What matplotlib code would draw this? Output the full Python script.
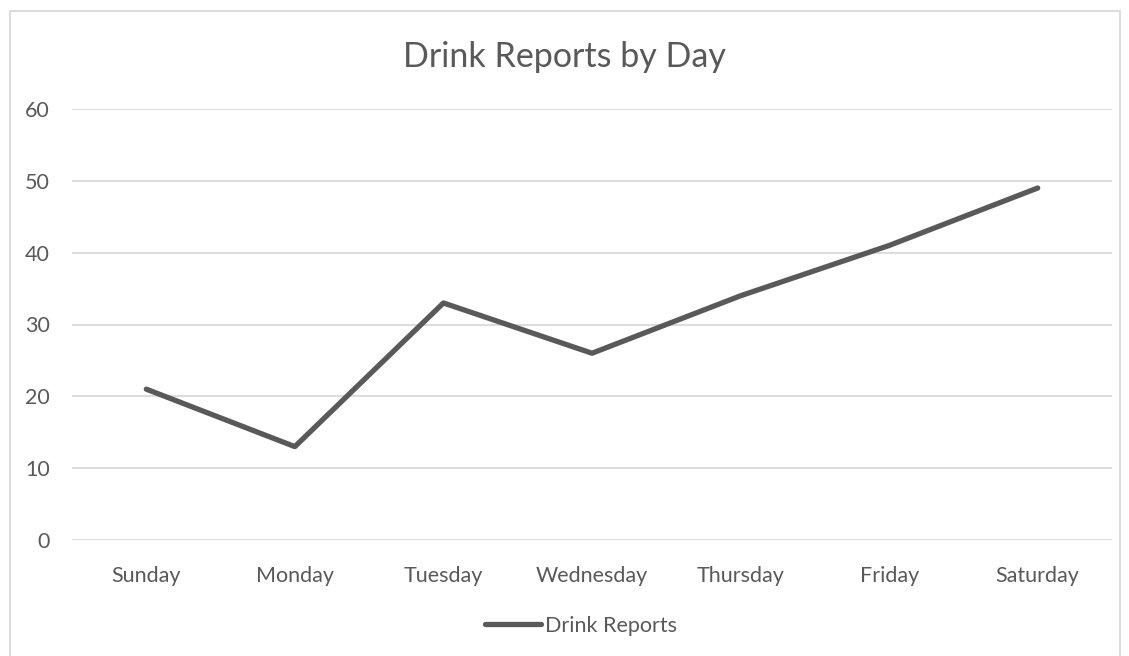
import matplotlib
matplotlib.use("Agg")
import matplotlib.pyplot as plt
from matplotlib.patches import Rectangle

days = ["Sunday", "Monday", "Tuesday", "Wednesday", "Thursday", "Friday", "Saturday"]
reports = [21, 13, 33, 26, 34, 41, 49]
yticks = [0, 10, 20, 30, 40, 50, 60]

plt.rcParams['font.family'] = ['Lato', 'DejaVu Sans']

W, H = 1129, 656
fig = plt.figure(figsize=(W / 100, H / 100), dpi=100)
ax = fig.add_axes([72 / W, 1 - 540 / H, (1112 - 72) / W, (540 - 109) / H])

ax.plot(range(len(days)), reports, color='#595959', lw=3.8,
        solid_capstyle='round', solid_joinstyle='round', label='Drink Reports', zorder=3)

ax.set_xlim(-0.5, len(days) - 0.5)
ax.set_ylim(0, 60)
ax.set_yticks(yticks)
ax.set_xticks(range(len(days)))
ax.set_xticklabels(days)
ax.grid(axis='y', color='#d9d9d9', lw=1.3)
ax.set_axisbelow(True)
for s in ax.spines.values():
    s.set_visible(False)
ax.tick_params(length=0, labelsize=15.5, colors='#595959')
ax.tick_params(axis='y', pad=16)
ax.tick_params(axis='x', pad=19)

fig.text(0.5, 1 - 57 / H, "Drink Reports by Day", ha='center', va='center',
         fontsize=24.5, color='#595959')

# legend sits a bit right of centre in the original
leg = fig.legend(loc='center', bbox_to_anchor=(581 / W, 1 - 626 / H), frameon=False,
                 fontsize=15.5, handlelength=2.6, handletextpad=0.15)
for t in leg.get_texts():
    t.set_color('#595959')

fig.patches.append(Rectangle((10 / W, -0.05), 1110 / W, 1 - 11 / H + 0.05,
                             transform=fig.transFigure, fill=False,
                             edgecolor='#d9d9d9', lw=1.3))

fig.savefig("out.png", dpi=100)
